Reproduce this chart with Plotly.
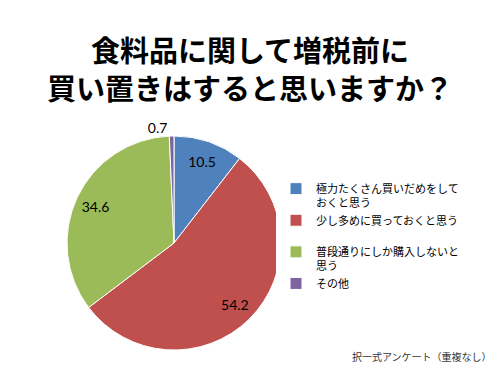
import plotly.graph_objects as go

labels = ["極力たくさん買いだめをして<br>おくと思う", "少し多めに買っておくと思う<br>&nbsp;", "普段通りにしか購入しないと<br>思う", "その他<br>&nbsp;"]
values = [10.5, 54.2, 34.6, 0.7]
colors = ["#4F81BD", "#C0504D", "#9BBB59", "#8064A2"]
text_positions = ["inside", "inside", "inside", "outside"]

title_lines = ["食料品に関して増税前に", "買い置きはすると思いますか？"]
footnote = "択一式アンケート（重複なし）"

pie_domain = dict(x=[66/500, 282/500], y=[1-350/375, 1-136/375])

fig = go.Figure()
# filled pie (legend source)
fig.add_trace(go.Pie(
    labels=labels,
    values=values,
    sort=False,
    direction="clockwise",
    rotation=0,
    marker=dict(colors=colors, line=dict(color="white", width=1)),
    textinfo="none",
    domain=pie_domain,
    showlegend=True,
    hoverinfo="skip",
))
# transparent ring carrying the value labels near the rim
fig.add_trace(go.Pie(
    labels=labels,
    values=values,
    sort=False,
    direction="clockwise",
    rotation=0,
    hole=0.62,
    marker=dict(colors=["rgba(0,0,0,0)"] * len(values), line=dict(width=0)),
    texttemplate="%{value}",
    textposition=text_positions,
    insidetextorientation="horizontal",
    textfont=dict(family="Lato, Liberation Sans", size=14, color="black"),
    domain=pie_domain,
    showlegend=False,
))

fig.update_layout(
    width=500, height=375,
    margin=dict(l=0, r=0, t=0, b=0),
    paper_bgcolor="white",
    plot_bgcolor="white",
    font=dict(family="Noto Sans CJK JP", color="black"),
    legend=dict(
        x=276/500, y=1-175/375, xanchor="left", yanchor="top",
        font=dict(family="Noto Sans CJK JP", size=11, color="black"),
        valign="top",
        tracegroupgap=0,
        itemwidth=30,
    ),
    annotations=[
        dict(text="<br>".join(title_lines), x=0.5, y=1-68/375, xref="paper", yref="paper",
             xanchor="center", yanchor="middle", showarrow=False,
             font=dict(family="Noto Sans CJK JP", size=29, color="black", weight="bold")),
        dict(text=footnote, x=494/500, y=1-356/375, xref="paper", yref="paper",
             xanchor="right", yanchor="middle", showarrow=False,
             font=dict(family="Noto Sans CJK JP", size=10, color="#333333")),
    ],
)

fig.write_html("out.html", config={"displayModeBar": False},
               post_script="document.body.style.margin='0';document.body.style.padding='0';")
